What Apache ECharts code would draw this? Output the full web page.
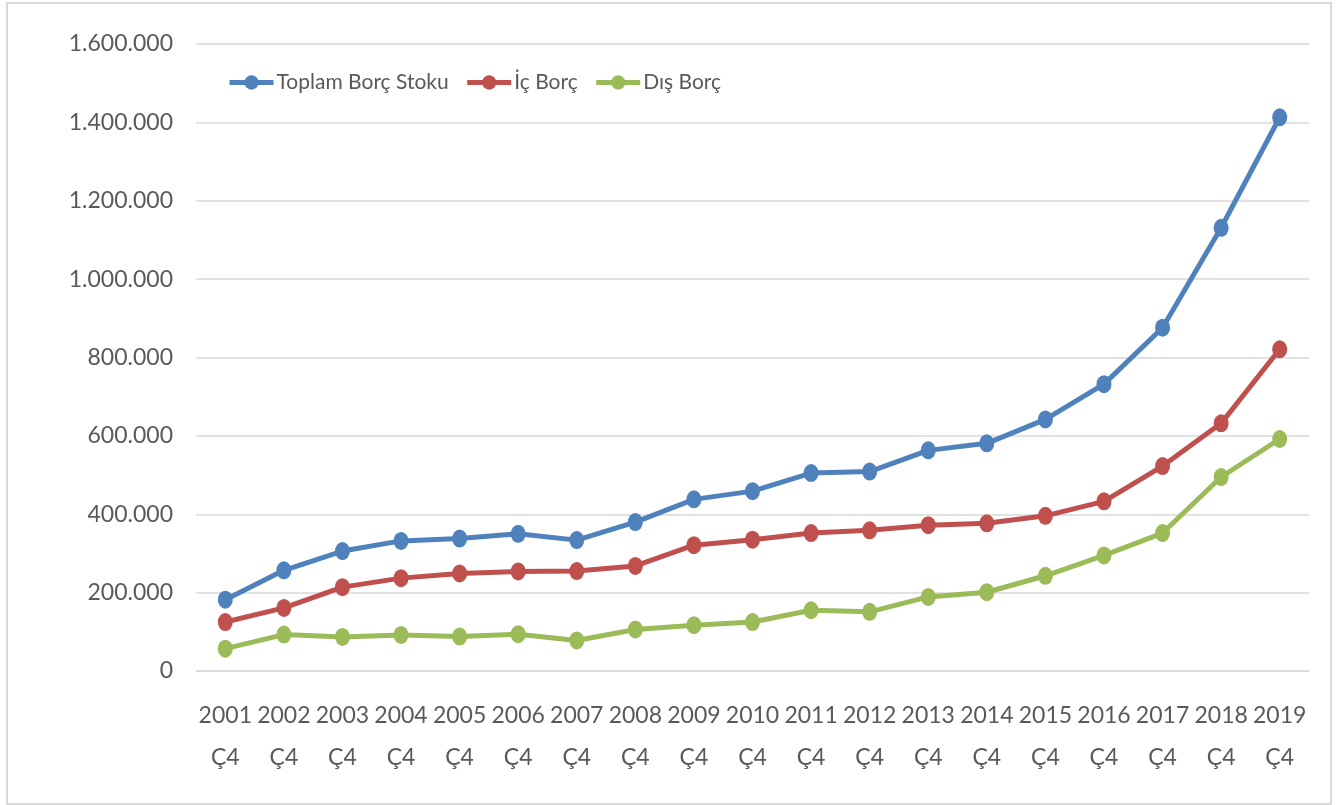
<!DOCTYPE html>
<html>
<head>
<meta charset="utf-8">
<script src="https://cdn.jsdelivr.net/npm/echarts@6.0.0/dist/echarts.min.js"></script>
<style>
html,body{margin:0;padding:0;background:#fff;}
#chart{width:1338px;height:805px;}
</style>
</head>
<body>
<div id="chart"></div>
<script>
const categories = ['2001\nÇ4','2002\nÇ4','2003\nÇ4','2004\nÇ4','2005\nÇ4','2006\nÇ4','2007\nÇ4','2008\nÇ4','2009\nÇ4','2010\nÇ4','2011\nÇ4','2012\nÇ4','2013\nÇ4','2014\nÇ4','2015\nÇ4','2016\nÇ4','2017\nÇ4','2018\nÇ4','2019\nÇ4'];
const toplamBorc = [182000,257000,306000,332000,338000,350000,334000,380000,438000,459000,505000,509000,563000,581000,642000,732000,876000,1131000,1413000];
const icBorc = [125000,161000,214000,237000,249000,254000,255000,268000,321000,335000,352000,359000,372000,377000,396000,433000,523000,632000,821000];
const disBorc = [57000,93000,87000,92000,88000,94000,78000,106000,117000,125000,155000,151000,189000,201000,243000,295000,352000,495000,592000];
const seriesNames = ['Toplam Borç Stoku','İç Borç','Dış Borç'];
const colors = ['#4F81BD','#C0504D','#9BBB59'];

const FONT = "Lato, 'Noto Sans', sans-serif";
const fmt = v => String(v).replace(/\B(?=(\d{3})+(?!\d))/g, '.');

const chart = echarts.init(document.getElementById('chart'), null, {renderer:'canvas'});
function mk(name, data, color){
  return {
    name, type:'line', data,
    symbol:'circle', symbolSize:[15,18],
    lineStyle:{color, width:5},
    itemStyle:{color},
    emphasis:{disabled:true},
    animation:false
  };
}
chart.setOption({
  animation:false,
  color: colors,
  graphic:[{type:'rect', shape:{x:7,y:3,width:1324,height:801}, style:{fill:'none', stroke:'#d9d9d9', lineWidth:2}, silent:true}],
  legend:{
    left:227, top:72, padding:0,
    itemWidth:44, itemHeight:18, itemGap:16,
    lineStyle:{width:5},
    textStyle:{fontFamily:FONT, fontSize:21, color:'#595959', padding:[0,0,0,-2]},
    data: seriesNames
  },
  grid:{left:196, top:44, width:1113, height:627, containLabel:false},
  xAxis:{
    type:'category', data:categories, boundaryGap:true,
    axisLine:{show:true, lineStyle:{color:'#d9d9d9', width:1.5}},
    axisTick:{show:false},
    axisLabel:{fontFamily:FONT, fontSize:23, color:'#595959', lineHeight:42, margin:24, interval:0}
  },
  yAxis:{
    type:'value', min:0, max:1600000, interval:200000,
    axisLine:{show:false}, axisTick:{show:false},
    splitLine:{lineStyle:{color:'#d9d9d9', width:1.5}},
    axisLabel:{fontFamily:FONT, fontSize:23, color:'#595959', margin:23, formatter: fmt}
  },
  series:[
    mk(seriesNames[0], toplamBorc, colors[0]),
    mk(seriesNames[1], icBorc, colors[1]),
    mk(seriesNames[2], disBorc, colors[2])
  ]
});
</script>
</body>
</html>
